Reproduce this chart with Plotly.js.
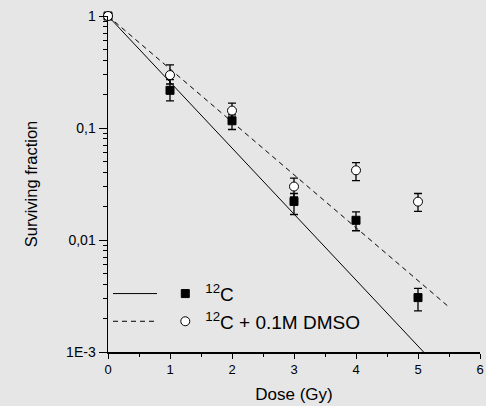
<!DOCTYPE html>
<html>
<head>
<meta charset="utf-8">
<script src="https://cdn.plot.ly/plotly-3.0.1.min.js"></script>
<style>html,body{margin:0;padding:0;background:#e6e6e6;}#chart{width:486px;height:406px;}</style>
</head>
<body>
<div id="chart"></div>
<script>
// Data
var dose = [0, 1, 2, 3, 4, 5];
var c12 = [1, 0.217, 0.116, 0.0221, 0.015, 0.00306];
var c12ErrPlus = [0, 0.053, 0.015, 0.0039, 0.0028, 0.00064];
var c12ErrMinus = [0, 0.042, 0.019, 0.0052, 0.0029, 0.00073];
var dmso = [1, 0.297, 0.143, 0.030, 0.0419, 0.022];
var dmsoErrPlus = [0, 0.069, 0.024, 0.0057, 0.0071, 0.004];
var dmsoErrMinus = [0, 0.05, 0.024, 0.0057, 0.008, 0.004];
var fitC12X = [0, 5.09];
var fitC12Y = [1, 0.001];
var fitDmsoX = [0, 5.5];
var fitDmsoY = [1, 0.00252];
var yTickVals = [0.001, 0.01, 0.1, 1];
var yTickText = ['1E-3', '0,01', '0,1', '1'];
var yMinorVals = [];
[0.001, 0.01, 0.1].forEach(function (d) { for (var k = 2; k <= 9; k++) yMinorVals.push(d * k); });

var font = 'Liberation Sans, Arial, sans-serif';

var traces = [
  {x: fitC12X, y: fitC12Y, mode: 'lines', line: {color: '#000', width: 1}, name: '\u00a0', legend: 'legend', legendgroup: 'a', showlegend: true, hoverinfo: 'skip'},
  {x: fitDmsoX, y: fitDmsoY, mode: 'lines', line: {color: '#000', width: 1, dash: '5px,4px'}, name: '\u00a0', legend: 'legend', legendgroup: 'b', showlegend: true, hoverinfo: 'skip'},
  {x: dose, y: c12, mode: 'markers', name: '<sup>12</sup>C', legend: 'legend2', legendgroup: 'c', cliponaxis: false,
   marker: {symbol: 'square', size: 8, color: '#000', line: {color: '#000', width: 1}},
   error_y: {type: 'data', symmetric: false, array: c12ErrPlus, arrayminus: c12ErrMinus, color: '#000', thickness: 1.3, width: 4}},
  {x: dose, y: dmso, mode: 'markers', name: '<sup>12</sup>C + 0.1M DMSO', legend: 'legend2', legendgroup: 'd', cliponaxis: false,
   marker: {symbol: 'circle', size: 9, color: '#fff', line: {color: '#000', width: 1}},
   error_y: {type: 'data', symmetric: false, array: dmsoErrPlus, arrayminus: dmsoErrMinus, color: '#000', thickness: 1.3, width: 4}}
];

var layout = {
  width: 486, height: 406,
  paper_bgcolor: '#e6e6e6', plot_bgcolor: '#e6e6e6',
  margin: {l: 108, r: 6, t: 16, b: 54},
  font: {family: font, color: '#000'},
  showlegend: true,
  xaxis: {
    range: [0, 6], dtick: 1, tick0: 0, showgrid: false, zeroline: false,
    showline: true, linecolor: '#000', linewidth: 1.5,
    ticks: 'outside', ticklen: 5, tickwidth: 1, tickcolor: '#000',
    minor: {dtick: 0.5, ticks: 'outside', ticklen: 3, tickwidth: 1, tickcolor: '#000', showgrid: false},
    tickfont: {size: 13, family: font},
    title: {text: 'Dose (Gy)', font: {size: 17, family: font}, standoff: 12}
  },
  yaxis: {
    type: 'log', range: [-3, 0], showgrid: false, zeroline: false,
    showline: true, linecolor: '#000', linewidth: 1.5,
    tickvals: yTickVals, ticktext: yTickText,
    ticks: 'outside', ticklen: 8, tickwidth: 1, tickcolor: '#000',
    minor: {tickvals: yMinorVals, ticks: 'outside', ticklen: 4, tickwidth: 1, tickcolor: '#000', showgrid: false},
    tickfont: {size: 14, family: font},
    title: {text: 'Surviving fraction', font: {size: 16.5, family: font}, standoff: 24}
  },
  legend: {x: 0.0, xanchor: 'left', y: 0.23, yanchor: 'top', bgcolor: 'rgba(0,0,0,0)', borderwidth: 0,
           font: {size: 19, family: font}, itemwidth: 44, tracegroupgap: 0, traceorder: 'grouped'},
  legend2: {x: 0.154, xanchor: 'left', y: 0.23, yanchor: 'top', bgcolor: 'rgba(0,0,0,0)', borderwidth: 0,
            font: {size: 19, family: font}, tracegroupgap: 0, traceorder: 'grouped'}
};

Plotly.newPlot('chart', traces, layout, {displayModeBar: false, staticPlot: true});
</script>
</body>
</html>
